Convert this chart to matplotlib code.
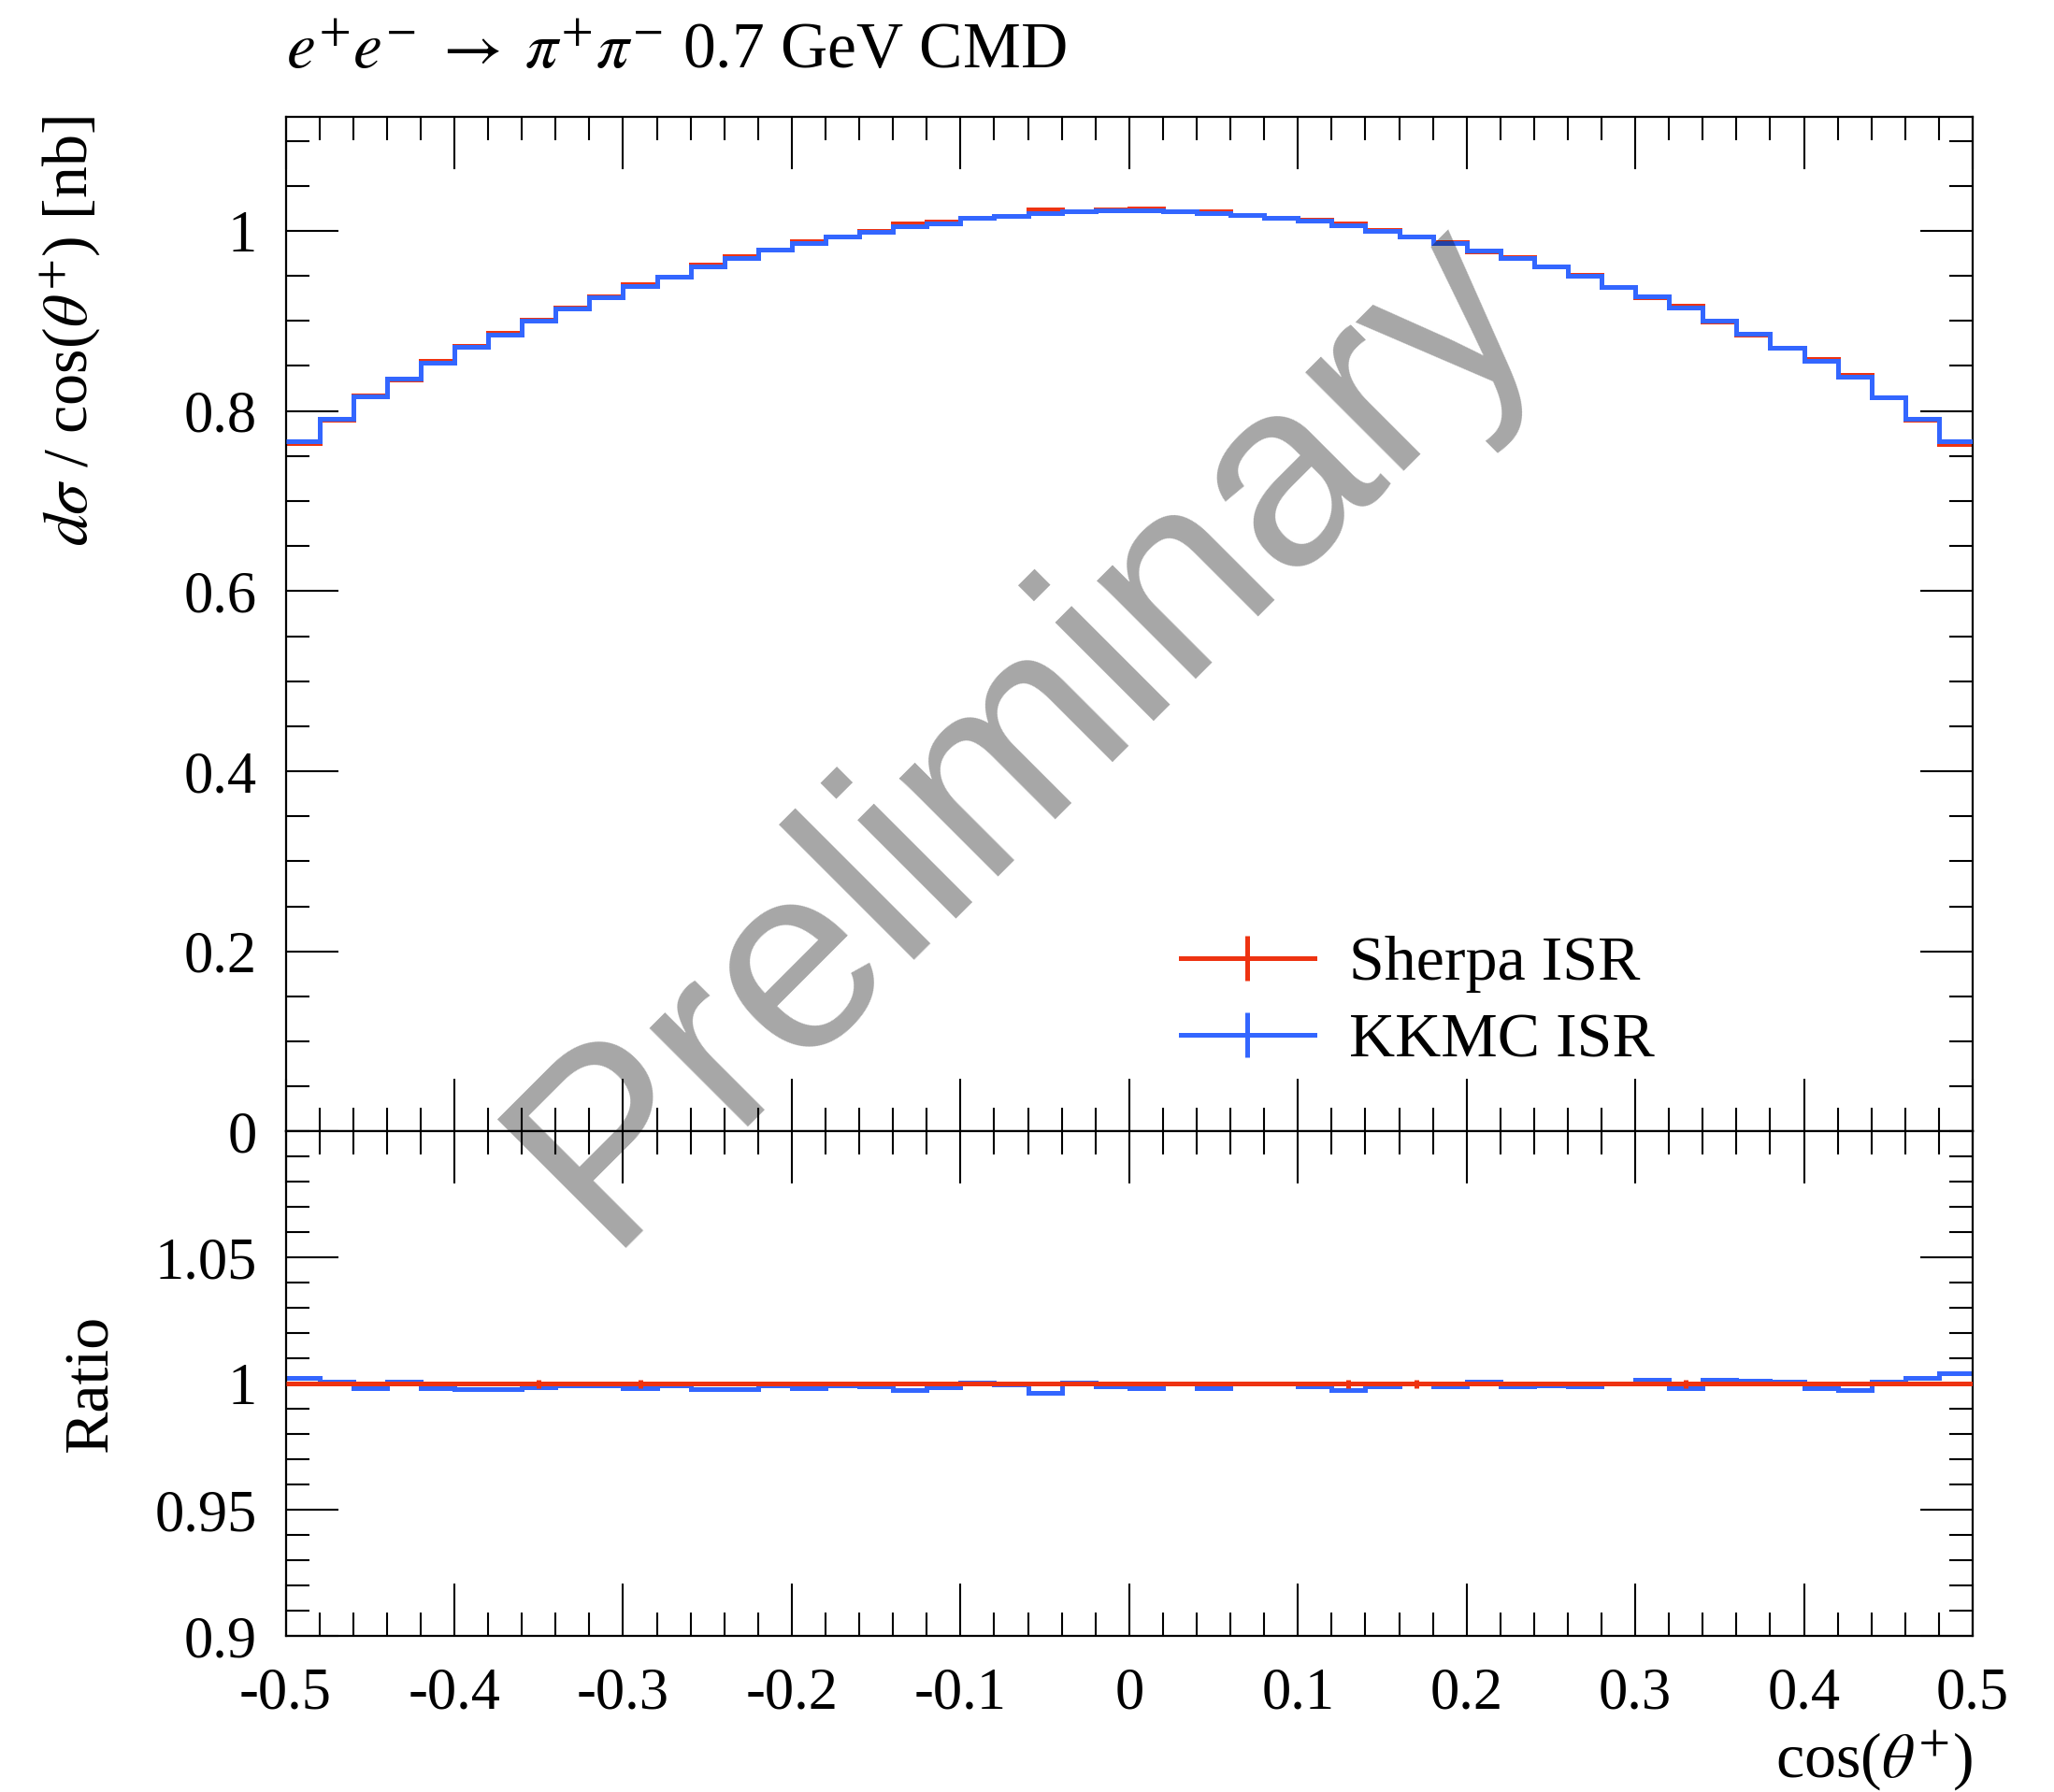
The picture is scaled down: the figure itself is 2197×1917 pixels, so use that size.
import numpy as np
import matplotlib
matplotlib.use("Agg")
import matplotlib.pyplot as plt
from matplotlib.ticker import MultipleLocator, FixedLocator, FixedFormatter
from matplotlib.lines import Line2D

# ---------------- data ----------------
bin_edges = np.round(np.arange(-0.5, 0.5001, 0.02), 3)

sherpa = np.array([
    0.7643, 0.7902, 0.8175, 0.8354, 0.8555, 0.8727, 0.8868, 0.9014, 0.9147, 0.9271,
    0.9407, 0.9493, 0.9627, 0.9717, 0.9794, 0.9886, 0.9940, 1.0002, 1.0080, 1.0101,
    1.0140, 1.0168, 1.0234, 1.0214, 1.0240, 1.0246, 1.0218, 1.0214, 1.0173, 1.0146,
    1.0120, 1.0083, 1.0009, 0.9938, 0.9872, 0.9771, 0.9704, 0.9610, 0.9508, 0.9376,
    0.9258, 0.9165, 0.8992, 0.8850, 0.8699, 0.8573, 0.8402, 0.8149, 0.7900, 0.7636])

kkmc_over_sherpa = np.array([
    1.0022, 1.0010, 0.9982, 1.0007, 0.9982, 0.9980, 0.9980, 0.9985, 0.9992, 0.9994,
    0.9982, 0.9994, 0.9980, 0.9980, 0.9994, 0.9982, 0.9994, 0.9988, 0.9975, 0.9985,
    1.0006, 0.9998, 0.9965, 1.0004, 0.9990, 0.9984, 1.0000, 0.9984, 1.0000, 1.0000,
    0.9990, 0.9975, 0.9991, 1.0000, 0.9988, 1.0009, 0.9990, 0.9994, 0.9988, 1.0000,
    1.0015, 0.9984, 1.0015, 1.0011, 1.0009, 0.9984, 0.9975, 1.0009, 1.0022, 1.0040])

sherpa_rel_err = np.array([
    0.0005, 0.0005, 0.0005, 0.0005, 0.0005, 0.0005, 0.0005, 0.0017, 0.0005, 0.0005,
    0.0017, 0.0005, 0.0005, 0.0005, 0.0005, 0.0005, 0.0005, 0.0005, 0.0005, 0.0005,
    0.0005, 0.0005, 0.0005, 0.0005, 0.0005, 0.0005, 0.0005, 0.0005, 0.0005, 0.0005,
    0.0005, 0.0017, 0.0005, 0.0017, 0.0005, 0.0005, 0.0005, 0.0005, 0.0005, 0.0005,
    0.0005, 0.0017, 0.0005, 0.0005, 0.0005, 0.0005, 0.0005, 0.0005, 0.0005, 0.0005])

series_labels = ["Sherpa ISR", "KKMC ISR"]
xtick_values = [-0.5, -0.4, -0.3, -0.2, -0.1, 0.0, 0.1, 0.2, 0.3, 0.4, 0.5]
xtick_labels = ["-0.5", "-0.4", "-0.3", "-0.2", "-0.1", "0", "0.1", "0.2", "0.3", "0.4", "0.5"]
ytick_values = [0.0, 0.2, 0.4, 0.6, 0.8, 1.0]
ytick_labels = ["0", "0.2", "0.4", "0.6", "0.8", "1"]
rtick_values = [0.90, 0.95, 1.00, 1.05]
rtick_labels = ["0.9", "0.95", "1", "1.05"]

# ---------------- style ----------------
RED = "#EE3311"
BLUE = "#3366FF"
plt.rcParams["font.family"] = ["Liberation Serif", "DejaVu Serif"]
plt.rcParams["mathtext.fontset"] = "stix"
FS = 24.5
TFS = 22.5
LW = 1.8

fig = plt.figure(figsize=(10.985, 9.585), dpi=200)
left, width = 0.1391, 0.8213
ax1 = fig.add_axes([left, 0.3686, width, 0.5664])
ax2 = fig.add_axes([left, 0.0871, width, 0.2815], sharex=ax1)

centers = 0.5 * (bin_edges[:-1] + bin_edges[1:])
kkmc = sherpa * kkmc_over_sherpa

# main panel
ax1.stairs(sherpa, bin_edges, baseline=None, color=RED, lw=LW, zorder=2)
ax1.errorbar(centers, sherpa, yerr=sherpa * sherpa_rel_err, fmt="none", ecolor=RED,
             elinewidth=LW, zorder=2)
ax1.stairs(kkmc, bin_edges, baseline=None, color=BLUE, lw=LW, zorder=3)

# ratio panel
ones = sherpa / sherpa
ax2.stairs(kkmc_over_sherpa, bin_edges, baseline=None, color=BLUE, lw=LW, zorder=2)
ax2.stairs(ones, bin_edges, baseline=None, color=RED, lw=LW, zorder=3)
ax2.errorbar(centers, ones, yerr=sherpa_rel_err, fmt="none", ecolor=RED, elinewidth=LW, zorder=3)

ax1.set_xlim(-0.5, 0.5)
ax1.set_ylim(0, 1.127)
ax2.set_ylim(0.9, 1.1)

for ax in (ax1, ax2):
    for s in ax.spines.values():
        s.set_linewidth(0.8)
    ax.tick_params(which="both", direction="in", top=True, right=True, width=0.75,
                   labelsize=TFS, pad=11)
    ax.tick_params(which="major", length=20)
    ax.tick_params(which="minor", length=9)
    ax.xaxis.set_major_locator(FixedLocator(xtick_values))
    ax.xaxis.set_minor_locator(MultipleLocator(0.02))

ax1.tick_params(axis="x", labelbottom=False)
ax1.yaxis.set_major_locator(FixedLocator(ytick_values))
ax1.yaxis.set_major_formatter(FixedFormatter(ytick_labels))
ax1.yaxis.set_minor_locator(MultipleLocator(0.05))

ax2.yaxis.set_major_locator(FixedLocator(rtick_values))
ax2.yaxis.set_major_formatter(FixedFormatter(rtick_labels))
ax2.yaxis.set_minor_locator(MultipleLocator(0.01))
ax2.xaxis.set_major_formatter(FixedFormatter(xtick_labels))
ax2.tick_params(axis="x", pad=12)

ax1.set_ylabel(r"$d\sigma$ / cos($\theta^{+}$) [nb]", fontsize=FS, loc="top")
ax1.yaxis.set_label_coords(-0.108, 1.0)
ax2.set_ylabel("Ratio", fontsize=FS)
ax2.yaxis.set_label_coords(-0.098, 0.5)
ax2.set_xlabel(r"cos($\theta^{+}$)", fontsize=FS, loc="right", labelpad=3)

fig.text(left, 0.962, r"$e^{+}e^{-}\;\rightarrow\;\pi^{+}\pi^{-}$ 0.7 GeV CMD", fontsize=25,
         ha="left", va="baseline")

handles = [Line2D([], [], color=RED, lw=LW, marker="|", markersize=17.5, markeredgewidth=LW),
           Line2D([], [], color=BLUE, lw=LW, marker="|", markersize=17.5, markeredgewidth=LW)]
ax1.legend(handles, series_labels, loc="upper left", bbox_to_anchor=(0.5306, 0.193),
           frameon=False, fontsize=FS, handlelength=2.1, handletextpad=0.55,
           labelspacing=0.3, borderpad=0, borderaxespad=0, numpoints=1)

fig.text(0.5224, 0.565, "Preliminary", fontsize=102, family="Liberation Sans",
         color="black", alpha=0.35, rotation=45, rotation_mode="anchor",
         ha="center", va="baseline", zorder=10)

fig.savefig("out.png", dpi=200)
